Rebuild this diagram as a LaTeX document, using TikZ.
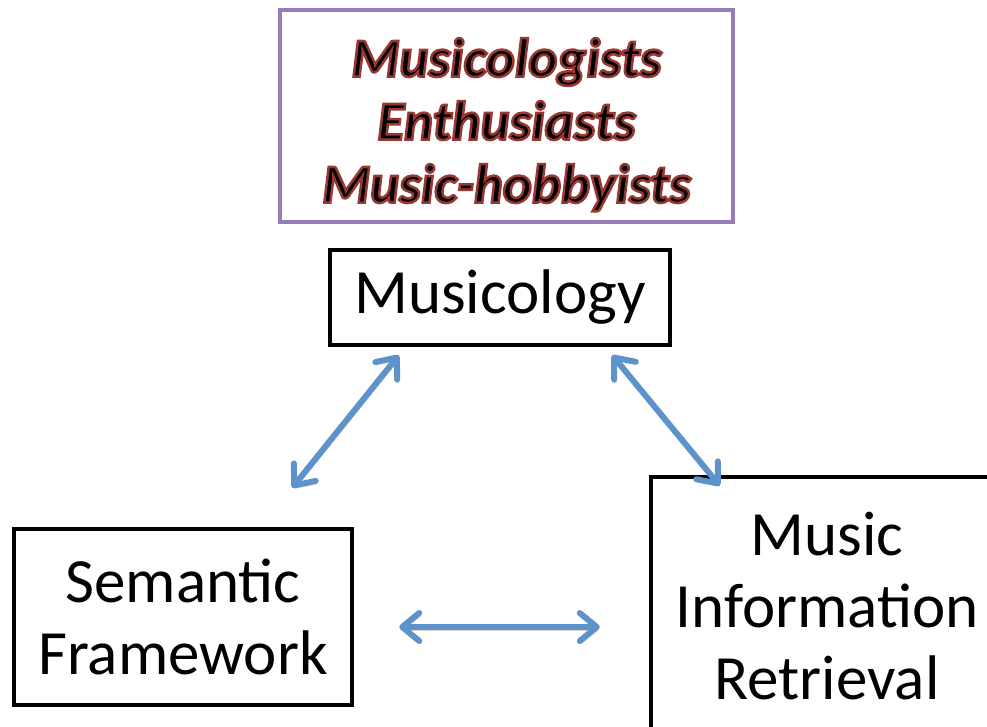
\documentclass[tikz,border=0pt]{standalone}
\usepackage{fontspec}
\setmainfont{Carlito}
\usepackage{xcolor}
\usepackage{tikz}
\usetikzlibrary{positioning, arrows.meta, calc}

\definecolor{boxpurple}{RGB}{152,124,184}
\definecolor{linkblue}{RGB}{94,146,203}
% outlined text: black fill, dark red rim
\newcommand{\rimtext}[1]{\special{pdf:literal direct 2 Tr 2.5 w 0.60 0.22 0.20 RG}#1\special{pdf:literal direct 0 Tr 1 w}}

\begin{document}
\begin{tikzpicture}[x=1pt, y=-1pt,
    field/.style={rectangle, draw, line width=4.5pt, align=center,
        font=\fontsize{63}{72}\selectfont},
    users/.style={rectangle, draw=boxpurple, line width=3.5pt, align=center,
        font=\fontsize{55}{63}\selectfont\bfseries\itshape},
    link/.style={{Straight Barb[length=17pt,width=28pt,round]}-{Straight Barb[length=17pt,width=28pt,round]},
        draw=linkblue, line width=6pt, line cap=round,
        preaction={draw=black!18, transform canvas={shift={(1.5pt,-3pt)}}}}]
    \useasboundingbox (0,0) rectangle (987,727);
    \clip (0,0) rectangle (987,727);

    \node[users, minimum width=453pt, minimum height=212pt] (people) at (506.5,116)
        {\rule{0pt}{56pt}\rimtext{Musicologists}\\ \rimtext{Enthusiasts}\\ \rimtext{Music-hobbyists}};
    \node[field, minimum width=340pt, minimum height=95pt] (musicology) at (500,297.5) {Musicology};
    \node[field, minimum width=338pt, minimum height=176pt] (semantic) at (183,617) {Semantic\\Framework};
    \node[field, minimum width=352pt, minimum height=258pt] (mir) at (827,606) {Music\\Information\\Retrieval};

    \coordinate (musL) at ($(musicology.south west)+(71,8)$);
    \coordinate (musR) at ($(musicology.south east)+(-60,8)$);
    \coordinate (semT) at ($(semantic.north east)+(-62,-39)$);
    \coordinate (semR) at ($(semantic.east)+(45,10)$);
    \coordinate (mirT) at ($(mir.north west)+(71,11)$);
    \coordinate (mirL) at ($(mir.west)+(-49,21)$);

    \draw[link] (musL) -- (semT);
    \draw[link] (musR) -- (mirT);
    \draw[link] (semR) -- (mirL);
\end{tikzpicture}
\end{document}
